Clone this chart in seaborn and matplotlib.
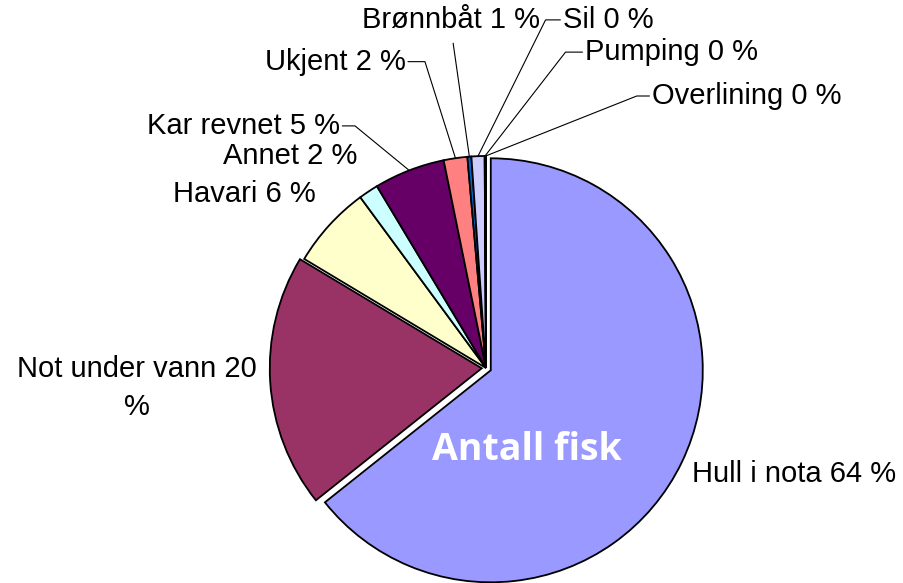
import numpy as np
import matplotlib
matplotlib.use("Agg")
import matplotlib.pyplot as plt
import seaborn as sns

# slice sizes (share of the circle, in %)
categories = ["Hull i nota", "Not under vann", "Havari", "Annet", "Kar revnet",
              "Ukjent", "Brønnbåt", "Sil", "Pumping", "Overlining"]
sizes = [64.3, 19.3, 6.3, 1.5, 5.4, 1.8, 0.3, 1.0, 0.05, 0.05]
# percentages as printed in the labels
shown_pct = [64, 20, 6, 2, 5, 2, 1, 0, 0, 0]
colors = ["#9999FF", "#993366", "#FFFFCC", "#CCFFFF", "#660066",
          "#FF8080", "#0066CC", "#CCCCFF", "#000080", "#FF00FF"]
explode = [0.025, 0.02, 0, 0, 0, 0, 0, 0, 0, 0]

sns.set_theme(style="white")
plt.rcParams["font.family"] = ["Liberation Sans", "DejaVu Sans"]

W, H = 904, 583
R = 212.0  # pie radius in pixels
cx, cy = 486, 368  # pie centre (pixels from top-left)

fig = plt.figure(figsize=(W / 100, H / 100), dpi=100)
ax = fig.add_axes([0, 0, 1, 1])

wedges, _ = ax.pie(sizes, colors=colors, explode=explode, startangle=90,
                   counterclock=False, radius=1.0,
                   wedgeprops=dict(edgecolor="black", linewidth=1.3))

ax.set_xlim(-cx / R, (W - cx) / R)
ax.set_ylim(-(H - cy) / R, cy / R)
ax.set_aspect("equal")
ax.axis("off")

# label layout: (text x, text y, ha, leader style)
layout = {
    "Hull i nota":    (0.972, -0.50, "left", None),
    "Not under vann": (-1.646, -0.094, "center", None),
    "Havari":         (-0.802, 0.822, "right", None),
    "Annet":          (-0.608, 1.00, "right", None),
    "Kar revnet":     (-0.690, 1.142, "right", 0.06),
    "Ukjent":         (-0.380, 1.445, "right", 0.08),
    "Brønnbåt":       (-0.165, 1.642, "center", "below"),
    "Sil":            (0.363, 1.642, "left", -0.07),
    "Pumping":        (0.467, 1.49, "left", -0.08),
    "Overlining":     (0.783, 1.283, "left", -0.06),
}

fs = 21
for w, name, pct in zip(wedges, categories, shown_pct):
    tx, ty, ha, lead = layout[name]
    text = f"{name} {pct} %"
    if name == "Not under vann":
        text = f"{name} {pct}\n%"
    ax.text(tx, ty, text, ha=ha, va="center", fontsize=fs, color="black",
            linespacing=1.45)
    if lead is None:
        continue
    mid = np.deg2rad(0.5 * (w.theta1 + w.theta2))
    ex = w.center[0] + w.r * np.cos(mid)
    ey = w.center[1] + w.r * np.sin(mid)
    if lead == "below":
        ax.plot([tx + 0.01, ex], [ty - 0.11, ey], color="black", lw=0.8)
    elif ha == "right":
        x0 = tx + 0.012
        ax.plot([x0, x0 + lead, ex], [ty, ty, ey], color="black", lw=0.8)
    else:
        x0 = tx - 0.012
        ax.plot([x0, x0 + lead, ex], [ty, ty, ey], color="black", lw=0.8)

ax.text((527 - cx) / R, (cy - 450) / R, "Antall fisk", ha="center", va="center",
        fontsize=27, fontweight="bold", color="white",
        family=["Open Sans", "DejaVu Sans"])

fig.savefig("out.png", dpi=100)
